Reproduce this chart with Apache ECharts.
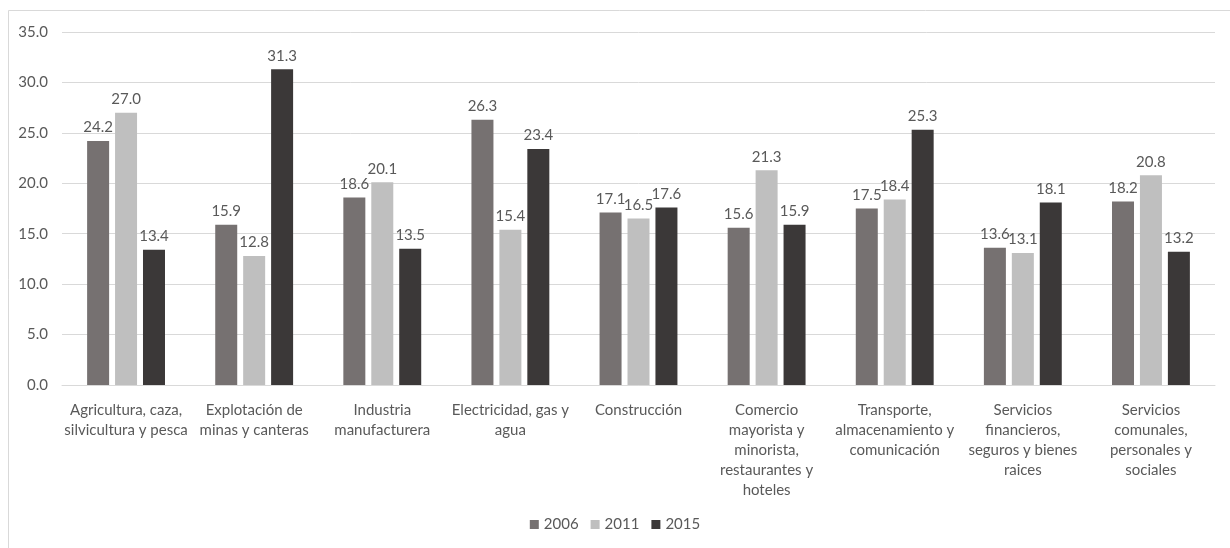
<!DOCTYPE html>
<html>
<head>
<meta charset="utf-8">
<script src="https://cdn.jsdelivr.net/npm/echarts@6/dist/echarts.min.js"></script>
<style>
  html, body { margin: 0; padding: 0; background: #fff; }
  #main { width: 1230px; height: 548px; }
</style>
</head>
<body>
<div id="main"></div>
<script>
  // categories (line breaks as in the original labels)
  var categories = [
    'Agricultura, caza,\nsilvicultura y pesca',
    'Explotación de\nminas y canteras',
    'Industria\nmanufacturera',
    'Electricidad, gas y\nagua',
    'Construcción',
    'Comercio\nmayorista y\nminorista,\nrestaurantes y\nhoteles',
    'Transporte,\nalmacenamiento y\ncomunicación',
    'Servicios\nfinancieros,\nseguros y bienes\nraices',
    'Servicios\ncomunales,\npersonales y\nsociales'
  ];
  var years = ['2006', '2011', '2015'];
  var values2006 = [24.2, 15.9, 18.6, 26.3, 17.1, 15.6, 17.5, 13.6, 18.2];
  var values2011 = [27.0, 12.8, 20.1, 15.4, 16.5, 21.3, 18.4, 13.1, 20.8];
  var values2015 = [13.4, 31.3, 13.5, 23.4, 17.6, 15.9, 25.3, 18.1, 13.2];
  var colors = ['#767171', '#bfbfbf', '#3b3838'];

  var chart = echarts.init(document.getElementById('main'));
  var font = 'Lato';
  var textColor = '#595959';

  function bar(name, data, color) {
    return {
      name: name,
      type: 'bar',
      data: data,
      barWidth: 22,
      barGap: '27%',
      itemStyle: { color: color },
      label: {
        show: true,
        position: 'top',
        distance: 6,
        color: textColor,
        fontFamily: font,
        fontSize: 15,
        formatter: function (p) { return p.value.toFixed(1); }
      }
    };
  }

  var option = {
    backgroundColor: '#fff',
    animation: false,
    color: colors,
    graphic: [{
      type: 'rect',
      shape: { x: 8.5, y: 10.5, width: 1240, height: 560 },
      style: { fill: 'none', stroke: '#d9d9d9', lineWidth: 1 },
      silent: true
    }],
    grid: { left: 62, right: 15, top: 32, bottom: 163 },
    legend: {
      data: years,
      bottom: 11,
      left: 'center',
      icon: 'rect',
      itemWidth: 9,
      itemHeight: 9,
      itemGap: 12,
      textStyle: { color: textColor, fontFamily: font, fontSize: 15 }
    },
    xAxis: {
      type: 'category',
      data: categories,
      axisLine: { show: true, lineStyle: { color: '#d9d9d9' } },
      axisTick: { show: false },
      axisLabel: {
        interval: 0,
        margin: 15,
        color: textColor,
        fontFamily: font,
        fontSize: 15,
        lineHeight: 20
      }
    },
    yAxis: {
      type: 'value',
      min: 0,
      max: 35,
      interval: 5,
      axisLine: { show: false },
      axisTick: { show: false },
      splitLine: { lineStyle: { color: '#d9d9d9' } },
      axisLabel: {
        margin: 14,
        color: textColor,
        fontFamily: font,
        fontSize: 15,
        formatter: function (v) { return v.toFixed(1); }
      }
    },
    series: [
      bar(years[0], values2006, colors[0]),
      bar(years[1], values2011, colors[1]),
      bar(years[2], values2015, colors[2])
    ]
  };

  chart.setOption(option);
</script>
</body>
</html>
